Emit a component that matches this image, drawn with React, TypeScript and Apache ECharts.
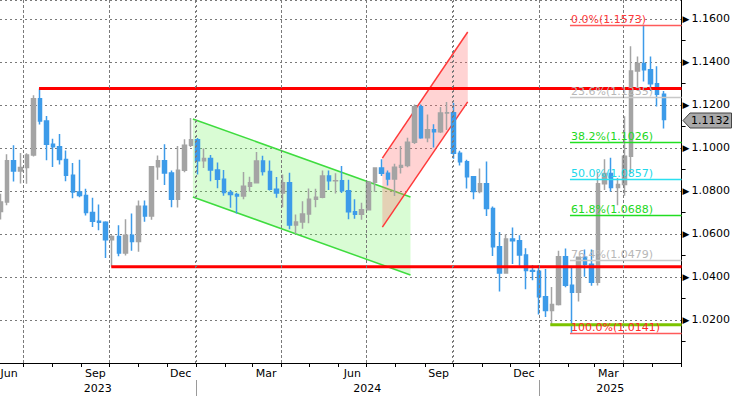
import React, { useEffect, useRef } from "react";
import * as echarts from "echarts";

// Weekly EUR/USD bars: [week of (Monday), open, high, low, close]
const bars2023: [string, number, number, number, number][] = [
  ["2023-06-05", 1.0705, 1.0787, 1.0667, 1.0749],
  ["2023-06-12", 1.0749, 1.0971, 1.0733, 1.094],
  ["2023-06-19", 1.094, 1.1012, 1.0844, 1.0893],
  ["2023-06-26", 1.0893, 1.0976, 1.0835, 1.0909],
  ["2023-07-03", 1.0909, 1.0975, 1.0833, 1.0967],
  ["2023-07-10", 1.0967, 1.1245, 1.096, 1.1229],
  ["2023-07-17", 1.1229, 1.1276, 1.1109, 1.1125],
  ["2023-07-24", 1.1125, 1.1149, 1.0943, 1.1017],
  ["2023-07-31", 1.1017, 1.1043, 1.0912, 1.1006],
  ["2023-08-07", 1.1006, 1.1065, 1.0923, 1.0946],
  ["2023-08-14", 1.0946, 1.0988, 1.0845, 1.0873],
  ["2023-08-21", 1.0873, 1.093, 1.0766, 1.0795],
  ["2023-08-28", 1.0795, 1.0945, 1.0771, 1.0779],
  ["2023-09-04", 1.0779, 1.081, 1.0686, 1.07],
  ["2023-09-11", 1.07, 1.0769, 1.0632, 1.0659],
  ["2023-09-18", 1.0659, 1.0737, 1.0617, 1.0654],
  ["2023-09-25", 1.0654, 1.0659, 1.0488, 1.0573],
  ["2023-10-02", 1.0573, 1.0594, 1.0448, 1.0588],
  ["2023-10-09", 1.0588, 1.064, 1.0496, 1.0512],
  ["2023-10-16", 1.0512, 1.0668, 1.05, 1.0594],
  ["2023-10-23", 1.0594, 1.0695, 1.0522, 1.0565],
  ["2023-10-30", 1.0565, 1.0756, 1.0517, 1.0729],
  ["2023-11-06", 1.0729, 1.0756, 1.0657, 1.0683],
  ["2023-11-13", 1.0683, 1.0913, 1.0666, 1.0913],
  ["2023-11-20", 1.0913, 1.0965, 1.0852, 1.0941],
  ["2023-11-27", 1.0941, 1.1017, 1.0828, 1.0884],
  ["2023-12-04", 1.0884, 1.0895, 1.0724, 1.0762],
  ["2023-12-11", 1.0762, 1.1009, 1.0723, 1.0896],
  ["2023-12-18", 1.0896, 1.104, 1.0887, 1.1012],
  ["2023-12-25", 1.1012, 1.1139, 1.1005, 1.1038],
];

const bars2024: [string, number, number, number, number][] = [
  ["2024-01-01", 1.1038, 1.1046, 1.0877, 1.0941],
  ["2024-01-08", 1.0941, 1.0998, 1.0907, 1.0951],
  ["2024-01-15", 1.0951, 1.0967, 1.0845, 1.0898],
  ["2024-01-22", 1.0898, 1.0932, 1.0813, 1.0854],
  ["2024-01-29", 1.0854, 1.0897, 1.0778, 1.0793],
  ["2024-02-05", 1.0793, 1.0805, 1.0722, 1.0784],
  ["2024-02-12", 1.0784, 1.0792, 1.0695, 1.0777],
  ["2024-02-19", 1.0777, 1.0888, 1.0761, 1.0822],
  ["2024-02-26", 1.0822, 1.0866, 1.0796, 1.0838],
  ["2024-03-04", 1.0838, 1.0981, 1.0835, 1.0939],
  ["2024-03-11", 1.0939, 1.0964, 1.0872, 1.089],
  ["2024-03-18", 1.089, 1.0942, 1.0802, 1.0808],
  ["2024-03-25", 1.0808, 1.0865, 1.0768, 1.079],
  ["2024-04-01", 1.079, 1.0876, 1.0724, 1.0838],
  ["2024-04-08", 1.0838, 1.0885, 1.0622, 1.0642],
  ["2024-04-15", 1.0642, 1.069, 1.0601, 1.0656],
  ["2024-04-22", 1.0656, 1.0752, 1.0624, 1.0693],
  ["2024-04-29", 1.0693, 1.0812, 1.065, 1.0762],
  ["2024-05-06", 1.0762, 1.081, 1.0724, 1.0771],
  ["2024-05-13", 1.0771, 1.0895, 1.0766, 1.0869],
  ["2024-05-20", 1.0869, 1.0895, 1.0805, 1.0847],
  ["2024-05-27", 1.0847, 1.0882, 1.0788, 1.0848],
  ["2024-06-03", 1.0848, 1.0916, 1.079, 1.0801],
  ["2024-06-10", 1.0801, 1.0852, 1.0668, 1.0703],
  ["2024-06-17", 1.0703, 1.0762, 1.0671, 1.0692],
  ["2024-06-24", 1.0692, 1.0745, 1.0666, 1.0713],
  ["2024-07-01", 1.0713, 1.0845, 1.071, 1.0841],
  ["2024-07-08", 1.0841, 1.091, 1.0796, 1.0907],
  ["2024-07-15", 1.0907, 1.0948, 1.087, 1.0882],
  ["2024-07-22", 1.0882, 1.0895, 1.0825, 1.0856],
  ["2024-07-29", 1.0856, 1.0926, 1.0777, 1.091],
  ["2024-08-05", 1.091, 1.1009, 1.0881, 1.0918],
  ["2024-08-12", 1.0918, 1.1048, 1.091, 1.1027],
  ["2024-08-19", 1.1027, 1.1202, 1.1018, 1.1192],
  ["2024-08-26", 1.1192, 1.1202, 1.1043, 1.1048],
  ["2024-09-02", 1.1048, 1.1156, 1.1026, 1.1085],
  ["2024-09-09", 1.1085, 1.111, 1.1002, 1.1075],
  ["2024-09-16", 1.1075, 1.119, 1.1069, 1.1162],
  ["2024-09-23", 1.1162, 1.1214, 1.1083, 1.1164],
  ["2024-09-30", 1.1164, 1.121, 1.095, 1.0975],
  ["2024-10-07", 1.0975, 1.0987, 1.0918, 1.0936],
  ["2024-10-14", 1.0936, 1.0945, 1.0811, 1.0866],
  ["2024-10-21", 1.0866, 1.087, 1.0761, 1.0797],
  ["2024-10-28", 1.0797, 1.0905, 1.0789, 1.0834],
  ["2024-11-04", 1.0834, 1.0937, 1.0683, 1.0719],
  ["2024-11-11", 1.0719, 1.0728, 1.0497, 1.054],
  ["2024-11-18", 1.054, 1.0609, 1.0332, 1.0418],
  ["2024-11-25", 1.0418, 1.0597, 1.0415, 1.0577],
  ["2024-12-02", 1.0577, 1.063, 1.046, 1.0568],
  ["2024-12-09", 1.0568, 1.0594, 1.0452, 1.0502],
  ["2024-12-16", 1.0502, 1.0534, 1.0343, 1.043],
  ["2024-12-23", 1.043, 1.0456, 1.0385, 1.0427],
  ["2024-12-30", 1.0427, 1.0456, 1.0226, 1.0308],
];

const bars2025: [string, number, number, number, number][] = [
  ["2025-01-06", 1.0308, 1.0437, 1.0214, 1.0244],
  ["2025-01-13", 1.0244, 1.0353, 1.0178, 1.0272],
  ["2025-01-20", 1.0272, 1.0522, 1.0267, 1.0494],
  ["2025-01-27", 1.0494, 1.0532, 1.0352, 1.0362],
  ["2025-02-03", 1.0362, 1.0442, 1.0141, 1.0329],
  ["2025-02-10", 1.0329, 1.0493, 1.0286, 1.0492],
  ["2025-02-17", 1.0492, 1.0528, 1.0401, 1.0459],
  ["2025-02-24", 1.0459, 1.0528, 1.0359, 1.0375],
  ["2025-03-03", 1.0375, 1.0888, 1.036, 1.0833],
  ["2025-03-10", 1.0833, 1.0947, 1.0804, 1.0881],
  ["2025-03-17", 1.0881, 1.0955, 1.0797, 1.0816],
  ["2025-03-24", 1.0816, 1.086, 1.0733, 1.083],
  ["2025-03-31", 1.083, 1.1147, 1.0778, 1.0961],
  ["2025-04-07", 1.0961, 1.1473, 1.088, 1.1358],
  ["2025-04-14", 1.1358, 1.1425, 1.1265, 1.1393],
  ["2025-04-21", 1.1393, 1.1573, 1.1309, 1.1364],
  ["2025-04-28", 1.1364, 1.1425, 1.1265, 1.1298],
  ["2025-05-05", 1.1298, 1.138, 1.1193, 1.125],
  ["2025-05-12", 1.125, 1.1265, 1.109, 1.1132],
];

// Horizontal support / resistance levels
const levelStarts = ["2023-07-18", "2023-10-03", "2025-01-13"];
const levelValues = [1.1276, 1.0448, 1.0178];

// Trend channels: start, end, upper line (start,end), lower line (start,end)
const channelStarts = ["2023-12-29", "2024-07-18"];
const channelEnds = ["2024-08-17", "2024-10-17"];
const channelUpper = [[1.1135, 1.0772], [1.0953, 1.1539]];
const channelLower = [[1.0772, 1.0409], [1.0632, 1.1214]];

// Fibonacci retracement
const fibStart = "2025-02-03";
const fibLabels = ["0.0%", "23.6%", "38.2%", "50.0%", "61.8%", "76.4%", "100.0%"];
const fibValues = [1.1573, 1.1235, 1.1026, 1.0857, 1.0688, 1.0479, 1.0141];

// Axis
const axisStart = "2023-06-06T09:00:00Z";
const axisEnd = "2025-06-02T00:00:00Z";
const yMin = 1.0;
const yMax = 1.1688;
const yStep = 0.02;
const monthTicks = [
  "2023-07-01", "2023-08-01", "2023-09-01", "2023-10-01", "2023-11-01", "2023-12-01",
  "2024-01-01", "2024-02-01", "2024-03-01", "2024-04-01", "2024-05-01", "2024-06-01",
  "2024-07-01", "2024-08-01", "2024-09-01", "2024-10-01", "2024-11-01", "2024-12-01",
  "2025-01-01", "2025-02-01", "2025-03-01", "2025-04-01", "2025-05-01", "2025-06-01",
];
const quarterLines = [
  "2023-07-01", "2023-10-01", "2024-01-01", "2024-04-01",
  "2024-07-01", "2024-10-01", "2025-01-01", "2025-04-01",
];
const monthLabels = ["Jun", "Sep", "Dec", "Mar", "Jun", "Sep", "Dec", "Mar"];
const monthLabelDates = [
  "2023-06-16", "2023-09-16", "2023-12-16", "2024-03-16",
  "2024-06-16", "2024-09-16", "2024-12-16", "2025-03-16",
];
const yearLabels = ["2023", "2024", "2025"];
const yearStarts = ["2023-01-01", "2024-01-01", "2025-01-01"];
const yearEnds = ["2024-01-01", "2025-01-01", "2026-01-01"];
const yearSeparators = ["2024-01-01", "2025-01-01"];

// Styles
const FONT = "DejaVu Sans";
const UP = "#a4a4a4";
const DOWN = "#3d9be9";
const GRID = "#7a7a7a";
const levelColors = ["#ff0000", "#ff0000", "#7cc400"];
const channelFills = ["rgba(120,245,100,0.28)", "rgba(255,110,110,0.3)"];
const channelStrokes = ["#3fdc3f", "#ff3a3a"];
const fibLineColors = ["#ff5a5a", "#c8c8c8", "#22e022", "#2ae0f0", "#22dd22", "#c8c8c8", "#ff5a5a"];
const fibTextColors = ["#ff3b3b", "#b8b8b8", "#1ed81e", "#22d8ea", "#1ed81e", "#b8b8b8", "#ff2a2a"];
const DAY = 86400000;

const ts = (s: string) => new Date(s.length > 10 ? s : s + "T00:00:00Z").getTime();

export default function App() {
  const ref = useRef<HTMLDivElement>(null);

  useEffect(() => {
    if (!ref.current) return;
    document.body.style.margin = "0";
    const chart = echarts.init(ref.current, undefined, { renderer: "svg" });
    const tMin = ts(axisStart);
    const tMax = ts(axisEnd);
    const bars = [...bars2023, ...bars2024, ...bars2025];
    const candleData = bars.map(([d, o, h, l, c]) => [ts(d) + 2 * DAY, o, c, l, h]);
    const lastClose = bars[bars.length - 1][4];

    const gridBottom = (params: any) => params.coordSys.y + params.coordSys.height;

    const option: any = {
      animation: false,
      grid: { left: 0, right: 50, top: 0, bottom: 33 },
      xAxis: {
        type: "time",
        min: tMin,
        max: tMax,
        axisLine: { show: true, lineStyle: { color: "#000", width: 1 } },
        axisTick: { show: false },
        axisLabel: { show: false },
        splitLine: { show: false },
      },
      yAxis: {
        type: "value",
        position: "right",
        min: yMin,
        max: yMax,
        interval: yStep,
        axisLine: { show: true, lineStyle: { color: "#000", width: 1 } },
        axisTick: { show: false },
        minorTick: { show: true, splitNumber: 2, length: 4, lineStyle: { color: "#000" } },
        splitLine: { show: true, lineStyle: { color: GRID, type: [2, 3], width: 1 } },
        axisLabel: {
          showMinLabel: false,
          showMaxLabel: false,
          margin: 1,
          formatter: (v: number) => `{a|▶}{b|${v.toFixed(4)}}`,
          rich: {
            a: { fontSize: 9, color: "#000", fontFamily: FONT },
            b: { fontSize: 11, color: "#000", fontFamily: FONT, padding: [0, 0, 0, 2] },
          },
        },
      },
      series: [
        {
          type: "line",
          name: "quarterGrid",
          z: 1,
          silent: true,
          symbol: "none",
          lineStyle: { opacity: 0 },
          data: [[tMin, yMin]],
          markLine: {
            silent: true,
            animation: false,
            symbol: ["none", "none"],
            label: { show: false },
            lineStyle: { color: GRID, type: [2, 3], width: 1 },
            emphasis: { disabled: true },
            data: quarterLines.map((d) => [
              { coord: [ts(d), yMin] },
              { coord: [ts(d), yMax] },
            ]),
          },
        },
        {
          type: "custom",
          name: "channels",
          z: 2,
          silent: true,
          encode: { x: [0, 2], y: [1, 3, 4, 5] },
          data: channelStarts.map((s, i) => [
            ts(s), channelUpper[i][0], ts(channelEnds[i]), channelUpper[i][1], channelLower[i][1], channelLower[i][0],
          ]),
          renderItem: (params: any, api: any) => {
            const i = params.dataIndex;
            const a = api.coord([api.value(0), api.value(1)]);
            const b = api.coord([api.value(2), api.value(3)]);
            const c = api.coord([api.value(2), api.value(4)]);
            const d = api.coord([api.value(0), api.value(5)]);
            const xs = Math.round(a[0]) + 0.5;
            return {
              type: "group",
              children: [
                { type: "polygon", shape: { points: [a, b, c, d] }, style: { fill: channelFills[i] } },
                { type: "line", shape: { x1: a[0], y1: a[1], x2: b[0], y2: b[1] }, style: { stroke: channelStrokes[i], lineWidth: 1.5 } },
                { type: "line", shape: { x1: d[0], y1: d[1], x2: c[0], y2: c[1] }, style: { stroke: channelStrokes[i], lineWidth: 1.5 } },
              ],
            };
          },
        },
        {
          type: "candlestick",
          name: "EURUSD",
          z: 3,
          barWidth: 4,
          data: candleData,
          itemStyle: { color: UP, color0: DOWN, borderColor: UP, borderColor0: DOWN, borderWidth: 1.5 },
        },
        {
          type: "custom",
          name: "guides",
          z: 4,
          silent: true,
          encode: { x: [0, 1], y: 2 },
          data: [
            ...levelStarts.map((s, i) => [ts(s), tMax, levelValues[i], 0]),
            ...quarterLines.map((d) => [ts(d), ts(d), yMin, 1]),
          ],
          renderItem: (params: any, api: any) => {
            const kind = api.value(3);
            if (kind === 1) {
              const top = api.coord([api.value(0), yMax]);
              const bottom = api.coord([api.value(0), yMin]);
              const x = Math.round(top[0]) + 0.5;
              return {
                type: "line",
                shape: { x1: x, y1: top[1], x2: x, y2: bottom[1] },
                style: { stroke: GRID, lineWidth: 1, lineDash: [2, 3] },
              };
            }
            const i = params.dataIndex;
            const p1 = api.coord([api.value(0), api.value(2)]);
            const p2 = api.coord([api.value(1), api.value(2)]);
            return {
              type: "line",
              shape: { x1: p1[0], y1: p1[1], x2: p2[0], y2: p2[1] },
              style: { stroke: levelColors[i], lineWidth: 3 },
            };
          },
        },
        {
          type: "custom",
          name: "fib",
          z: 4,
          silent: true,
          encode: { x: [0, 1], y: 2 },
          data: fibValues.map((v) => [ts(fibStart), tMax, v]),
          renderItem: (params: any, api: any) => {
            const i = params.dataIndex;
            const v = api.value(2);
            const p1 = api.coord([api.value(0), v]);
            const p2 = api.coord([api.value(1), v]);
            const y = Math.round(p1[1]) + 0.5;
            return {
              type: "group",
              children: [
                { type: "line", shape: { x1: p1[0], y1: y, x2: p2[0], y2: y }, style: { stroke: fibLineColors[i], lineWidth: 1.5 } },
                {
                  type: "text",
                  x: p1[0] + 1,
                  y: y - 1,
                  style: {
                    text: `${fibLabels[i]}(${v.toFixed(4)})`,
                    fill: fibTextColors[i],
                    fontSize: 11,
                    fontFamily: FONT,
                    align: "left",
                    verticalAlign: "bottom",
                    textAlign: "left",
                    textVerticalAlign: "bottom",
                  },
                },
              ],
            };
          },
        },
        {
          type: "custom",
          name: "priceTag",
          z: 7,
          silent: true,
          encode: { x: 0, y: 1 },
          data: [[tMax, lastClose]],
          renderItem: (params: any, api: any) => {
            const p = api.coord([api.value(0), api.value(1)]);
            const x = Math.round(p[0]);
            const y = Math.round(p[1]) + 0.5;
            return {
              type: "group",
              children: [
                {
                  type: "polygon",
                  shape: { points: [[x + 1, y], [x + 8, y - 7.5], [x + 49.5, y - 7.5], [x + 49.5, y + 7.5], [x + 8, y + 7.5]] },
                  style: { fill: "#a9a9a9", stroke: "#444", lineWidth: 1 },
                },
                {
                  type: "text",
                  x: x + 9,
                  y: y,
                  style: {
                    text: api.value(1).toFixed(4),
                    fill: "#000",
                    fontSize: 11,
                    fontFamily: FONT,
                    align: "left",
                    verticalAlign: "middle",
                    textAlign: "left",
                    textVerticalAlign: "middle",
                  },
                },
              ],
            };
          },
        },
        {
          type: "custom",
          name: "monthTicks",
          z: 5,
          silent: true,
          encode: { x: 0, y: 1 },
          data: monthTicks.map((d) => [ts(d), yMin]),
          renderItem: (params: any, api: any) => {
            const p = api.coord([api.value(0), yMin]);
            const x = Math.round(p[0]) + 0.5;
            const b = gridBottom(params);
            return { type: "line", shape: { x1: x, y1: b, x2: x, y2: b + 4 }, style: { stroke: "#000", lineWidth: 1 } };
          },
        },
        {
          type: "custom",
          name: "monthLabels",
          z: 5,
          silent: true,
          encode: { x: 0, y: 1 },
          data: monthLabelDates.map((d) => [ts(d), yMin]),
          renderItem: (params: any, api: any) => {
            const p = api.coord([api.value(0), yMin]);
            const b = gridBottom(params);
            return {
              type: "text",
              x: p[0],
              y: b + 5,
              style: {
                text: monthLabels[params.dataIndex],
                fill: "#000",
                fontSize: 11,
                fontFamily: FONT,
                align: "center",
                verticalAlign: "top",
                textAlign: "center",
                textVerticalAlign: "top",
              },
            };
          },
        },
        {
          type: "custom",
          name: "yearLabels",
          z: 5,
          silent: true,
          encode: { x: [0, 1], y: 2 },
          data: yearStarts.map((s, i) => [Math.max(ts(s), tMin), Math.min(ts(yearEnds[i]), tMax), yMin]),
          renderItem: (params: any, api: any) => {
            const p1 = api.coord([api.value(0), yMin]);
            const p2 = api.coord([api.value(1), yMin]);
            const b = gridBottom(params);
            return {
              type: "text",
              x: (p1[0] + p2[0]) / 2,
              y: b + 20,
              style: {
                text: yearLabels[params.dataIndex],
                fill: "#000",
                fontSize: 11,
                fontFamily: FONT,
                align: "center",
                verticalAlign: "top",
                textAlign: "center",
                textVerticalAlign: "top",
              },
            };
          },
        },
        {
          type: "custom",
          name: "yearSeparators",
          z: 5,
          silent: true,
          encode: { x: 0, y: 1 },
          data: yearSeparators.map((d) => [ts(d), yMin]),
          renderItem: (params: any, api: any) => {
            const p = api.coord([api.value(0), yMin]);
            const x = Math.round(p[0]) + 0.5;
            const b = gridBottom(params);
            return { type: "line", shape: { x1: x, y1: b + 17, x2: x, y2: b + 33 }, style: { stroke: "#9a9a9a", lineWidth: 1 } };
          },
        },
      ],
    };
    chart.setOption(option);
    return () => chart.dispose();
  }, []);

  return (
    <div
      ref={ref}
      style={{ position: "absolute", left: 0, top: 0, width: 733, height: 396, background: "#fff" }}
    />
  );
}
